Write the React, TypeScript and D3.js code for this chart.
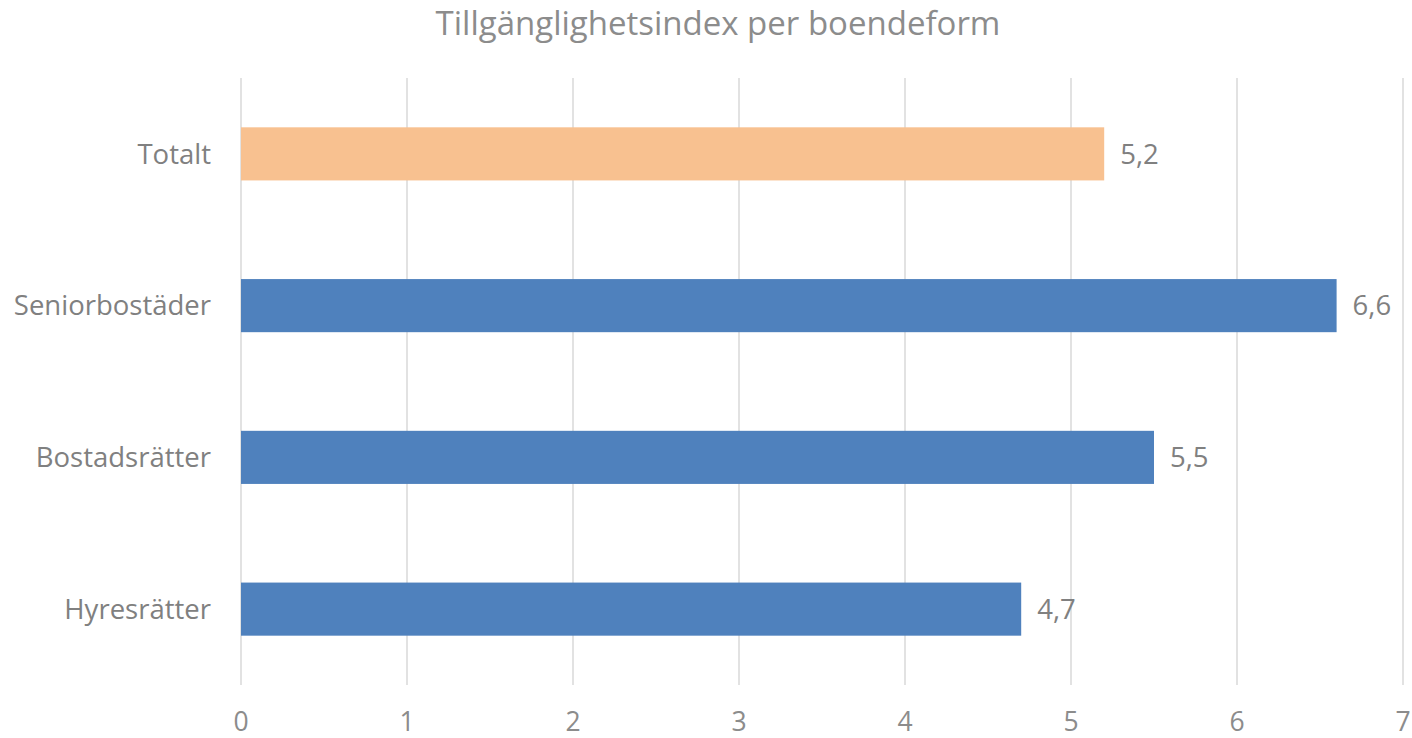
import React from "react";
import * as d3 from "d3";

const categories = ["Totalt", "Seniorbostäder", "Bostadsrätter", "Hyresrätter"];
const values = [5.2, 6.6, 5.5, 4.7];
const barColors = ["#F8C190", "#4F81BD", "#4F81BD", "#4F81BD"];
const ticks = [0, 1, 2, 3, 4, 5, 6, 7];
const title = "Tillgänglighetsindex per boendeform";

const W = 1412;
const H = 738;
const FONT = "'Open Sans', sans-serif";

export default function App() {
  const x = d3.scaleLinear().domain([0, 7]).range([241, 1403]);
  const y = d3.scaleBand().domain(categories).range([78, 685]).paddingInner(0.65).paddingOuter(0.325);
  const fmt = (v: number) => v.toFixed(1).replace(".", ",");
  return (
    <svg width={W} height={H} style={{ position: "absolute", left: 0, top: 0, background: "#fff" }}>
      <text x={718} y={35} textAnchor="middle" fontFamily={FONT} fontSize={33} fill="#8c8c8c">{title}</text>
      {ticks.map((t) => (
        <g key={t}>
          <line x1={x(t)} x2={x(t)} y1={78} y2={685} stroke="#e2e2e2" strokeWidth={2} />
          <text x={x(t)} y={731} textAnchor="middle" fontFamily={FONT} fontSize={26.5} fill="#8c8c8c">{t}</text>
        </g>
      ))}
      {categories.map((c, i) => {
        const yy = y(c)!;
        const bw = y.bandwidth();
        return (
          <g key={c}>
            <rect x={x(0)} y={yy} width={x(values[i]) - x(0)} height={bw} fill={barColors[i]} />
            <text x={211} y={yy + bw / 2} dy="0.35em" textAnchor="end" fontFamily={FONT} fontSize={27.5} fill="#808080">{c}</text>
            <text x={x(values[i]) + 16} y={yy + bw / 2} dy="0.35em" textAnchor="start" fontFamily={FONT} fontSize={27.5} fill="#808080">{fmt(values[i])}</text>
          </g>
        );
      })}
    </svg>
  );
}
